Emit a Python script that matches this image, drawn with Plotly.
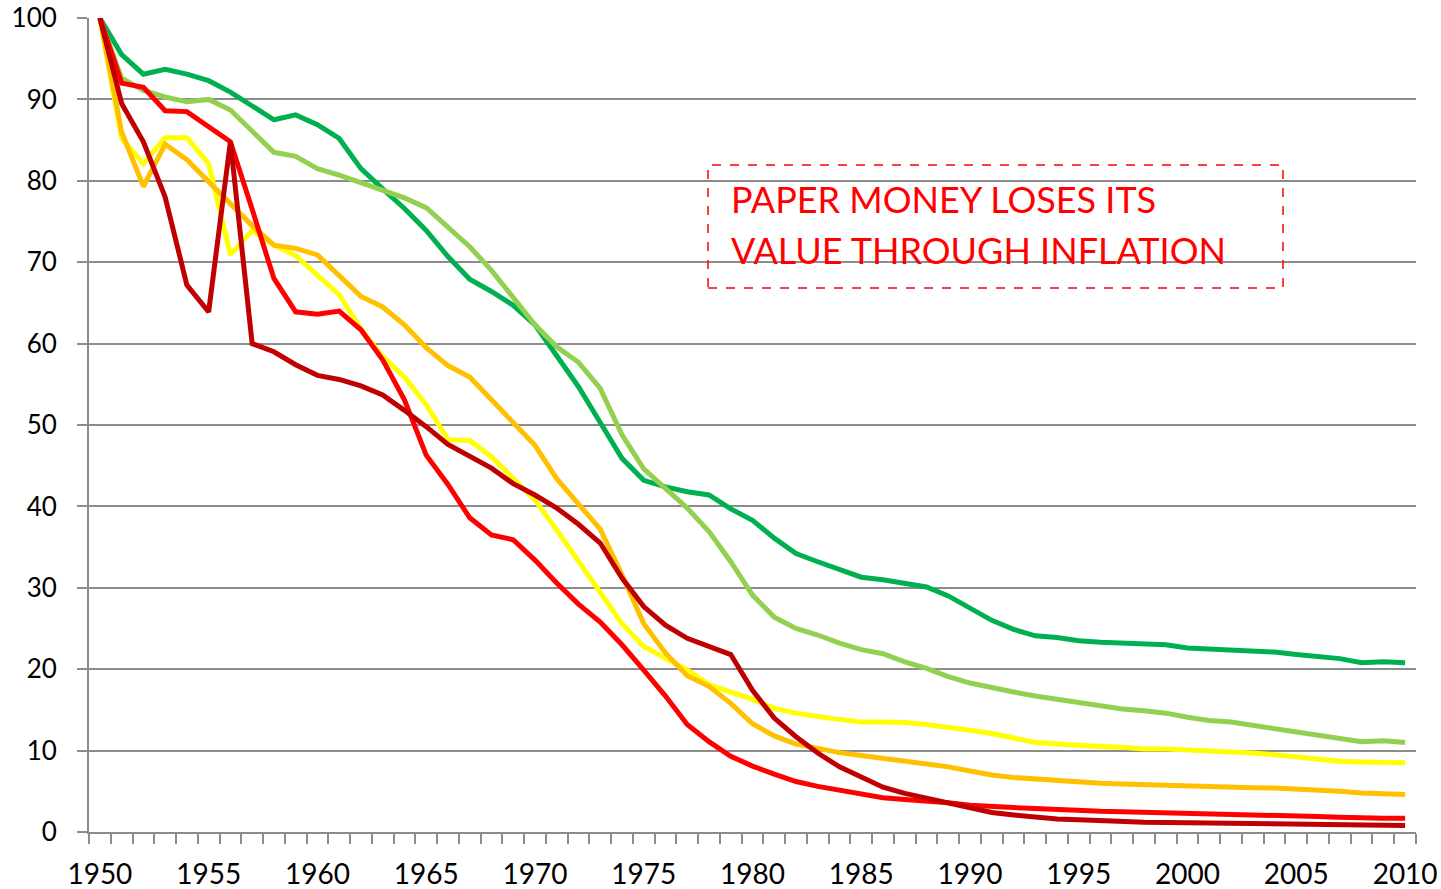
import plotly.graph_objects as go

years = list(range(1950, 2011))

dark_green = [100, 95.5, 93.1, 93.7, 93.1, 92.3, 90.9, 89.2, 87.5, 88.1,
              86.9, 85.2, 81.5, 79.0, 76.6, 73.9, 70.7, 67.9, 66.4, 64.7,
              62.3, 58.5, 54.7, 50.3, 45.9, 43.2, 42.4, 41.8, 41.4, 39.7,
              38.3, 36.1, 34.2, 33.2, 32.3, 31.3, 31.0, 30.6, 30.1, 29.0,
              27.5, 26.0, 24.9, 24.1, 23.9, 23.5, 23.3, 23.2, 23.2, 23.0,
              22.6, 22.5, 22.4, 22.2, 22.1, 21.8, 21.5, 21.3, 20.8, 20.9, 20.8]

light_green = [100, 92.6, 91.1, 90.3, 89.7, 90.0, 88.7, 86.0, 83.5, 83.0,
               81.5, 80.7, 79.8, 78.9, 77.9, 76.7, 74.2, 71.9, 69.0, 65.6,
               62.3, 59.6, 57.7, 54.5, 48.8, 44.6, 42.3, 39.8, 36.9, 33.2,
               29.1, 26.4, 25.0, 24.2, 23.2, 22.4, 21.9, 20.9, 20.1, 19.1,
               18.3, 17.7, 17.2, 16.7, 16.3, 15.8, 15.4, 15.1, 14.9, 14.6,
               14.1, 13.7, 13.5, 13.1, 12.7, 12.3, 11.9, 11.5, 11.1, 11.2, 11.0]

yellow = [100, 85.2, 82.1, 85.3, 85.3, 82.1, 70.9, 73.9, 72.1, 70.8,
          68.4, 66.0, 61.8, 58.4, 55.9, 52.5, 48.2, 48.1, 46.1, 43.4,
          40.8, 37.1, 33.2, 29.4, 25.6, 22.8, 21.3, 19.9, 18.1, 17.2,
          16.3, 15.2, 14.6, 14.2, 13.8, 13.5, 13.5, 13.45, 13.2, 12.9,
          12.5, 12.1, 11.5, 11.0, 10.8, 10.6, 10.5, 10.4, 10.2, 10.2,
          10.1, 9.9, 9.8, 9.7, 9.5, 9.2, 8.9, 8.7, 8.6, 8.6, 8.5]

orange = [100, 86.0, 79.3, 84.5, 82.6, 79.9, 77.2, 74.5, 72.1, 71.7,
          70.9, 68.4, 65.8, 64.5, 62.3, 59.5, 57.3, 55.9, 53.1, 50.4,
          47.5, 43.4, 40.4, 37.2, 31.6, 25.6, 22.0, 19.2, 17.9, 15.8,
          13.3, 11.8, 10.8, 10.2, 9.75, 9.4, 9.05, 8.75, 8.4, 8.0,
          7.5, 7.0, 6.7, 6.5, 6.4, 6.2, 6.0, 5.9, 5.8, 5.7,
          5.65, 5.6, 5.5, 5.45, 5.4, 5.3, 5.2, 5.0, 4.8, 4.7, 4.6]

red = [100, 92.0, 91.5, 88.6, 88.5, 86.7, 84.8, 76.5, 68.0, 63.9,
       63.6, 64.0, 61.7, 58.0, 53.1, 46.3, 42.7, 38.6, 36.5, 35.9,
       33.4, 30.6, 28.0, 25.8, 23.0, 19.9, 16.7, 13.2, 11.1, 9.3,
       8.1, 7.1, 6.2, 5.6, 5.1, 4.7, 4.2, 4.0, 3.85, 3.6,
       3.3, 3.1, 3.0, 2.9, 2.75, 2.6, 2.55, 2.5, 2.45, 2.35,
       2.25, 2.2, 2.15, 2.1, 2.0, 1.95, 1.9, 1.8, 1.7, 1.7, 1.7]

dark_red = [100, 89.5, 84.8, 78.0, 67.2, 63.9, 84.8, 60.0, 59.0, 57.4,
            56.1, 55.6, 54.8, 53.7, 51.8, 49.8, 47.6, 46.2, 44.7, 42.8,
            41.4, 39.8, 37.8, 35.5, 31.2, 27.7, 25.4, 23.8, 22.8, 21.8,
            17.4, 14.0, 11.7, 9.7, 8.0, 6.8, 5.5, 4.75, 4.15, 3.55,
            2.9, 2.4, 2.1, 1.8, 1.6, 1.5, 1.35, 1.27, 1.2, 1.18,
            1.15, 1.1, 1.07, 1.05, 1.0, 1.0, 0.95, 0.9, 0.85, 0.85, 0.8]

x_tick_years = list(range(1950, 2011, 5))
y_ticks = list(range(0, 101, 10))
title_lines = ["PAPER MONEY LOSES ITS", "VALUE THROUGH INFLATION"]

series = [
    (dark_green, "#00B050"),
    (light_green, "#92D050"),
    (yellow, "#FFFF00"),
    (orange, "#FFC000"),
    (red, "#FF0000"),
    (dark_red, "#C00000"),
]

GRID = "#8C8C8C"
FONT = "Lato, 'Open Sans', sans-serif"

fig = go.Figure()
for vals, col in series:
    fig.add_trace(go.Scatter(x=years, y=vals, mode="lines",
                             line=dict(color=col, width=5),
                             showlegend=False, hoverinfo="x+y"))

fig.update_layout(
    width=1441, height=889,
    margin=dict(l=89, r=25, t=18, b=57, autoexpand=False),
    paper_bgcolor="white", plot_bgcolor="white",
    font=dict(family=FONT, size=26, color="black"),
    xaxis=dict(
        range=[1949.5, 2010.5], tickvals=x_tick_years,
        ticks="", showgrid=False, zeroline=False, automargin=False,
        showline=True, linecolor=GRID, linewidth=2,
        ticklabelstandoff=16, tickfont=dict(size=28),
        minor=dict(tickvals=[1949.5 + k for k in range(62)], ticks="outside",
                   ticklen=10, tickwidth=2, tickcolor=GRID, showgrid=False),
    ),
    yaxis=dict(
        range=[0, 100], tickvals=y_ticks, automargin=False,
        ticks="outside", ticklen=10, tickwidth=2, tickcolor=GRID,
        showgrid=True, gridcolor=GRID, gridwidth=2, zeroline=False,
        showline=True, linecolor=GRID, linewidth=2,
        ticklabelstandoff=15, tickfont=dict(size=26),
    ),
)

fig.add_shape(type="rect", xref="paper", yref="paper",
              x0=0.4665, x1=0.8998, y0=0.6683, y1=0.8194,
              line=dict(color="#FF0000", width=1.5, dash="dash"),
              fillcolor="rgba(0,0,0,0)")

for i, txt in enumerate(title_lines):
    fig.add_annotation(xref="paper", yref="paper",
                       x=0.4823, y=0.778 - i * 0.0635,
                       xanchor="left", yanchor="middle", showarrow=False,
                       text=txt, align="left",
                       font=dict(family=FONT, size=36, color="#FF0000"))

fig.write_html(
    "out.html",
    config={"displayModeBar": False},
    post_script="document.body.style.margin='0';"
                "document.body.style.overflow='hidden';",
)
